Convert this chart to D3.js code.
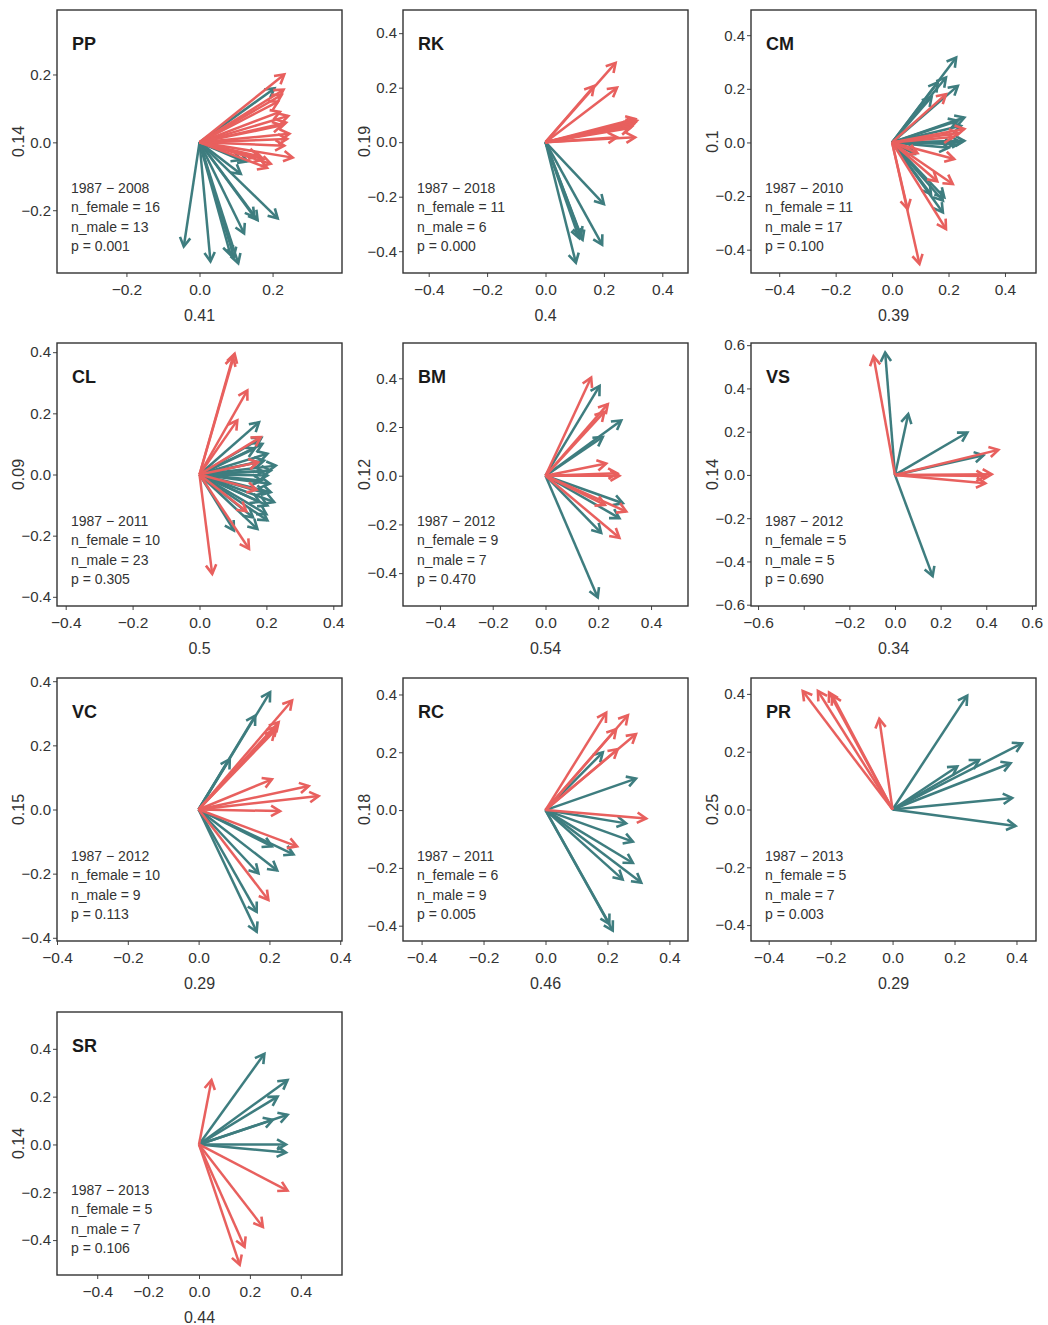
<!DOCTYPE html>
<html>
<head>
<meta charset="utf-8">
<script src="https://cdn.jsdelivr.net/npm/d3@7"></script>
<style>
  body { margin: 0; background: #fff; }
  svg text { font-family: "Liberation Sans", Arial, sans-serif; }
</style>
</head>
<body>
<svg id="chart" width="1048" height="1325"></svg>
<script>
// ---- data -------------------------------------------------------------
var panelNames = ['PP', 'RK', 'CM', 'CL', 'BM', 'VS', 'VC', 'RC', 'PR', 'SR'];
var xTitles = ['0.41', '0.4', '0.39', '0.5', '0.54', '0.34', '0.29', '0.46', '0.29', '0.44'];
var yTitles = ['0.14', '0.19', '0.1', '0.09', '0.12', '0.14', '0.15', '0.18', '0.25', '0.14'];
var yearRanges = ['1987 − 2008', '1987 − 2018', '1987 − 2010', '1987 − 2011', '1987 − 2012',
                  '1987 − 2012', '1987 − 2012', '1987 − 2011', '1987 − 2013', '1987 − 2013'];
var nFemale = [16, 11, 11, 10, 9, 5, 10, 6, 5, 5];
var nMale = [13, 6, 17, 23, 7, 5, 9, 9, 7, 7];
var pValues = ['0.001', '0.000', '0.100', '0.305', '0.470', '0.690', '0.113', '0.005', '0.003', '0.106'];

var xLimits = [[-0.39, 0.39], [-0.488, 0.488], [-0.5, 0.51], [-0.426, 0.426], [-0.54, 0.54],
               [-0.631, 0.618], [-0.4, 0.405], [-0.46, 0.46], [-0.457, 0.463], [-0.558, 0.562]];
var yLimits = [[-0.385, 0.39], [-0.48, 0.485], [-0.487, 0.494], [-0.43, 0.43], [-0.535, 0.545],
               [-0.606, 0.61], [-0.41, 0.41], [-0.453, 0.457], [-0.455, 0.455], [-0.546, 0.554]];

var ticksSmall = [-0.2, 0, 0.2];
var ticksMid = [-0.4, -0.2, 0, 0.2, 0.4];
var ticksWide = [-0.6, -0.4, -0.2, 0, 0.2, 0.4, 0.6];
var xTicks = [ticksSmall, ticksMid, ticksMid, ticksMid, ticksMid, ticksWide, ticksMid, ticksMid, ticksMid, ticksMid];
var yTicks = [ticksSmall, ticksMid, ticksMid, ticksMid, ticksMid, ticksWide, ticksMid, ticksMid, ticksMid, ticksMid];
var xHiddenLabels = [[], [], [], [], [], [-0.4], [], [], [], []];

// vector end points [x, y]
var ppFemale = [[0.232, 0.200], [0.230, 0.155], [0.225, 0.140], [0.215, 0.120], [0.220, 0.090], [0.243, 0.078],
                [0.237, 0.058], [0.225, 0.050], [0.246, 0.025], [0.240, 0.010], [0.232, -0.010], [0.255, -0.045],
                [0.195, -0.063], [0.185, -0.075], [0.175, -0.050], [0.160, -0.040]];
var ppMale = [[0.205, 0.159], [0.113, -0.052], [0.131, -0.056], [0.113, -0.093], [0.159, -0.229], [0.150, -0.220],
              [0.214, -0.224], [0.122, -0.268], [-0.043, -0.307], [0.030, -0.351], [0.085, -0.332], [0.094, -0.337],
              [0.106, -0.356]];

var rkFemale = [[0.240, 0.291], [0.166, 0.206], [0.245, 0.200], [0.307, 0.085], [0.313, 0.079], [0.307, 0.072],
                [0.300, 0.064], [0.296, 0.058], [0.290, 0.052], [0.307, 0.018], [0.245, 0.018]];
var rkMale = [[0.200, -0.227], [0.115, -0.352], [0.127, -0.358], [0.121, -0.345], [0.194, -0.376], [0.104, -0.442]];

var cmFemale = [[0.191, 0.180], [0.256, 0.050], [0.235, 0.035], [0.215, 0.020], [0.220, -0.062], [0.215, -0.155],
                [0.160, -0.145], [0.191, -0.323], [0.055, -0.248], [0.097, -0.453], [0.090, -0.040]];
var cmMale = [[0.227, 0.317], [0.191, 0.242], [0.162, 0.224], [0.233, 0.211], [0.140, 0.170], [0.256, 0.093],
              [0.233, 0.081], [0.244, 0.062], [0.256, 0.006], [0.244, 0.000], [0.220, -0.006], [0.200, -0.020],
              [0.185, -0.205], [0.180, -0.217], [0.180, -0.261], [0.138, -0.193], [0.079, -0.043]];

var clFemale = [[0.105, 0.395], [0.100, 0.385], [0.143, 0.275], [0.113, 0.177], [0.183, 0.122], [0.175, 0.040],
                [0.170, -0.050], [0.140, -0.120], [0.148, -0.243], [0.038, -0.325]];
var clMale = [[0.178, 0.171], [0.185, 0.120], [0.188, 0.100], [0.165, 0.085], [0.203, 0.068], [0.193, 0.046],
              [0.175, 0.040], [0.228, 0.029], [0.213, 0.013], [0.190, 0.010], [0.203, -0.003], [0.185, -0.020],
              [0.210, -0.030], [0.213, -0.058], [0.195, -0.060], [0.223, -0.090], [0.203, -0.101], [0.180, -0.090],
              [0.200, -0.130], [0.203, -0.150], [0.173, -0.178], [0.103, -0.183], [0.160, -0.140]];

var bmFemale = [[0.173, 0.403], [0.236, 0.294], [0.223, 0.262], [0.230, 0.050], [0.272, 0.010], [0.280, 0.000],
                [0.306, -0.147], [0.225, -0.120], [0.280, -0.255]];
var bmMale = [[0.205, 0.369], [0.287, 0.227], [0.217, 0.159], [0.293, -0.113], [0.280, -0.174], [0.211, -0.235],
              [0.198, -0.500]];

var vsFemale = [[-0.094, 0.548], [0.453, 0.116], [0.424, 0.003], [0.396, -0.005], [0.396, -0.039]];
var vsMale = [[-0.043, 0.566], [0.058, 0.281], [0.317, 0.196], [0.388, 0.091], [0.165, -0.468]];

var vcFemale = [[0.264, 0.340], [0.226, 0.272], [0.221, 0.258], [0.215, 0.245], [0.207, 0.094], [0.311, 0.073],
                [0.339, 0.042], [0.230, -0.005], [0.278, -0.115], [0.197, -0.282]];
var vcMale = [[0.202, 0.366], [0.160, 0.293], [0.088, 0.157], [0.268, -0.140], [0.207, -0.115], [0.222, -0.190],
              [0.169, -0.199], [0.164, -0.319], [0.164, -0.381]];

var rcFemale = [[0.196, 0.337], [0.266, 0.328], [0.228, 0.280], [0.292, 0.263], [0.233, 0.211], [0.325, -0.029]];
var rcMale = [[0.185, 0.200], [0.292, 0.109], [0.260, -0.046], [0.282, -0.109], [0.282, -0.183], [0.249, -0.240],
              [0.309, -0.251], [0.217, -0.417], [0.206, -0.394]];

var prFemale = [[-0.290, 0.410], [-0.241, 0.410], [-0.205, 0.405], [-0.195, 0.395], [-0.043, 0.314]];
var prMale = [[0.241, 0.394], [0.418, 0.229], [0.381, 0.160], [0.279, 0.171], [0.209, 0.149], [0.386, 0.040],
              [0.397, -0.057]];

var srFemale = [[0.049, 0.269], [0.348, -0.193], [0.251, -0.345], [0.179, -0.428], [0.160, -0.503]];
var srMale = [[0.257, 0.379], [0.348, 0.269], [0.309, 0.200], [0.348, 0.124], [0.290, 0.103], [0.342, 0.000],
              [0.342, -0.034]];

var femaleVectors = [ppFemale, rkFemale, cmFemale, clFemale, bmFemale, vsFemale, vcFemale, rcFemale, prFemale, srFemale];
var maleVectors = [ppMale, rkMale, cmMale, clMale, bmMale, vsMale, vcMale, rcMale, prMale, srMale];

// ---- layout -----------------------------------------------------------
var colLeft = [57, 403, 751];
var rowTop = [10, 343, 678, 1012];
var panelW = 285, panelH = 263;
var RED = '#e8605e', TEAL = '#3e7d7f';

var svg = d3.select('#chart');
var defs = svg.append('defs');

// open arrow heads, one per colour
[['head-f', RED], ['head-m', TEAL]].forEach(function (m) {
  defs.append('marker')
    .attr('id', m[0])
    .attr('markerUnits', 'userSpaceOnUse')
    .attr('viewBox', '-14 -9 18 18')
    .attr('markerWidth', 18)
    .attr('markerHeight', 18)
    .attr('refX', 0)
    .attr('refY', 0)
    .attr('orient', 'auto')
    .append('path')
    .attr('d', 'M-9,-5.2L0,0L-9,5.2')
    .attr('fill', 'none')
    .attr('stroke', m[1])
    .attr('stroke-width', 2.6)
    .attr('stroke-linejoin', 'miter');
});

function fmt(d) {
  var s = Math.abs(d).toFixed(1);
  return d < -1e-9 ? '\u2212' + s : s;
}

panelNames.forEach(function (name, i) {
  var g = svg.append('g')
    .attr('transform', 'translate(' + colLeft[i % 3] + ',' + rowTop[Math.floor(i / 3)] + ')');

  var x = d3.scaleLinear().domain(xLimits[i]).range([0, panelW]);
  var y = d3.scaleLinear().domain(yLimits[i]).range([panelH, 0]);

  // axes
  var hidden = xHiddenLabels[i];
  var xa = g.append('g')
    .attr('transform', 'translate(0,' + panelH + ')')
    .call(d3.axisBottom(x).tickValues(xTicks[i]).tickSize(4).tickPadding(7)
      .tickFormat(function (d) { return hidden.some(function (h) { return Math.abs(h - d) < 1e-9; }) ? '' : fmt(d); }));
  var ya = g.append('g')
    .call(d3.axisLeft(y).tickValues(yTicks[i]).tickSize(4).tickPadding(2).tickFormat(fmt));
  [xa, ya].forEach(function (a) {
    a.select('.domain').remove();
    a.selectAll('line').attr('stroke', '#444');
    a.selectAll('text').attr('fill', '#333').style('font-size', '15px');
  });
  xa.selectAll('text').style('font-size', '15.5px');

  // vectors
  g.append('g').selectAll('line')
    .data(maleVectors[i])
    .join('line')
    .attr('x1', x(0)).attr('y1', y(0))
    .attr('x2', function (d) { return x(d[0]); })
    .attr('y2', function (d) { return y(d[1]); })
    .attr('stroke', TEAL)
    .attr('stroke-width', 2.5)
    .attr('marker-end', 'url(#head-m)');

  g.append('g').selectAll('line')
    .data(femaleVectors[i])
    .join('line')
    .attr('x1', x(0)).attr('y1', y(0))
    .attr('x2', function (d) { return x(d[0]); })
    .attr('y2', function (d) { return y(d[1]); })
    .attr('stroke', RED)
    .attr('stroke-width', 2.5)
    .attr('marker-end', 'url(#head-f)');

  // frame
  g.append('rect')
    .attr('width', panelW).attr('height', panelH)
    .attr('fill', 'none')
    .attr('stroke', '#333')
    .attr('stroke-width', 1.4);

  // labels
  g.append('text')
    .attr('x', 15).attr('y', 40)
    .attr('fill', '#1a1a1a')
    .style('font-size', '18px').style('font-weight', 'bold')
    .text(name);

  var notes = [yearRanges[i], 'n_female = ' + nFemale[i], 'n_male = ' + nMale[i], 'p = ' + pValues[i]];
  g.append('g').selectAll('text')
    .data(notes)
    .join('text')
    .attr('x', 14)
    .attr('y', function (d, k) { return 183 + k * 19.4; })
    .attr('fill', '#333')
    .style('font-size', '14px')
    .text(function (d) { return d; });

  g.append('text')
    .attr('x', panelW / 2).attr('y', panelH + 48)
    .attr('text-anchor', 'middle')
    .attr('fill', '#333')
    .style('font-size', '16px')
    .text(xTitles[i]);

  g.append('text')
    .attr('transform', 'translate(-33,' + (panelH / 2) + ') rotate(-90)')
    .attr('text-anchor', 'middle')
    .attr('fill', '#333')
    .style('font-size', '16px')
    .text(yTitles[i]);
});
</script>
</body>
</html>
